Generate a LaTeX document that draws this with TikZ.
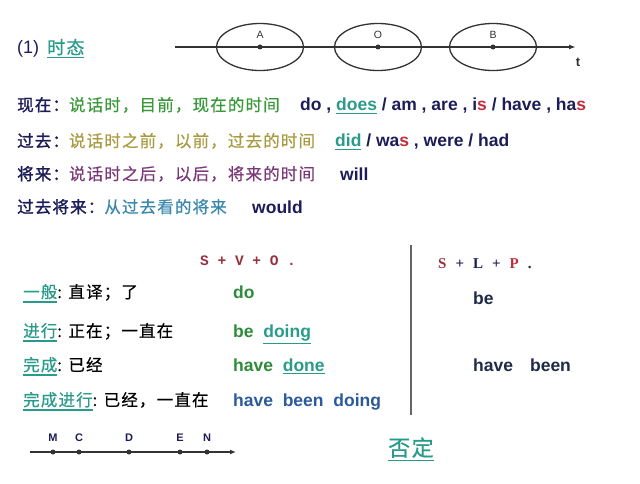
\documentclass[tikz,border=0pt]{standalone}
\usepackage{fontspec}
\setmainfont{Liberation Sans}
\newfontfamily\cjk{Noto Sans CJK SC}[LetterSpace=7,FakeBold=0.6]
\newfontfamily\cjkb{Noto Sans CJK SC}[LetterSpace=7,FakeBold=1.6]
\newfontfamily\monof{Liberation Mono}
\newfontfamily\serf{Liberation Serif}
\usetikzlibrary{shapes.geometric,arrows.meta}
\definecolor{navyc}{HTML}{1C1C58}
\definecolor{greenc}{HTML}{3A9A3A}
\definecolor{dgreenc}{HTML}{2E8B3A}
\definecolor{olivec}{HTML}{A89A40}
\definecolor{purplec}{HTML}{7A3A78}
\definecolor{bluetealc}{HTML}{3A88AC}
\definecolor{tealc}{HTML}{2A9A8A}
\definecolor{redc}{HTML}{C0303C}
\definecolor{dredc}{HTML}{9A3040}
\definecolor{bluec}{HTML}{2A5A9A}
\definecolor{darkc}{HTML}{1E2A48}
\definecolor{linec}{HTML}{333333}
\newcommand\myul[1]{\leavevmode\vtop{\hbox{#1}\kern2pt\hrule height 1.2pt}}
\begin{document}
\begin{tikzpicture}[x=1pt,y=-1pt,
  txt/.style={anchor=base west, inner sep=0pt},
  en/.style={txt, font=\fontsize{17.5}{20}\selectfont\bfseries, text=navyc},
  zh/.style={txt, font=\fontsize{16.5}{20}\selectfont\cjk},
  ell/.style={ellipse, draw=linec, line width=1.3pt, minimum width=87pt, minimum height=47pt, inner sep=0pt},
  dot/.style={circle, fill=linec, inner sep=0pt, minimum size=5pt},
  lbl/.style={inner sep=0pt, font=\fontsize{10.5}{12}\selectfont, text=linec},
  blbl/.style={inner sep=0pt, font=\fontsize{11}{12}\selectfont\bfseries, text=navyc},
  axis/.style={draw=linec, line width=1.4pt}]
\useasboundingbox (0,0) rectangle (640,484);

% title
\node[txt, font=\fontsize{18}{20}\selectfont, text=navyc] (tnum) at (17,54) {(1)};
\node[txt, font=\fontsize{18}{20}\selectfont\cjk, text=tealc] (ttitle) at (47,54) {\myul{时态}};

% top timeline
\coordinate (ta) at (175,47);
\coordinate (tb) at (576,47);
\draw[axis, -{Latex[length=7pt,width=5pt]}] (ta) -- (tb);
\node[ell] (eA) at (260,47) {};
\node[ell] (eO) at (378,47) {};
\node[ell] (eB) at (493,47) {};
\node[dot] (pA) at (260,47) {};
\node[dot] (pO) at (378,47) {};
\node[dot] (pB) at (493,47) {};
\node[lbl] (lA) at (260,35) {A};
\node[lbl] (lO) at (378,35) {O};
\node[lbl] (lB) at (493,35) {B};
\node[inner sep=0pt, font=\fontsize{13}{14}\selectfont\bfseries, text=linec] (lt) at (578,62) {t};

% rows
\node[zh] (r1a) at (17,111) {\cjkb\color{navyc}现在：\cjk\color{greenc}说话时，目前，现在的时间};
\node[en] (r1b) at (300,111) {do , \textcolor{tealc}{\myul{does}} / am , are , i\textcolor{redc}{s} / have , ha\textcolor{redc}{s}};
\node[zh] (r2a) at (17,147) {\cjkb\color{navyc}过去：\cjk\color{olivec}说话时之前，以前，过去的时间};
\node[en] (r2b) at (335,147) {\textcolor{tealc}{\myul{did}} / wa\textcolor{redc}{s} , were / had};
\node[zh] (r3a) at (17,180) {\cjkb\color{navyc}将来：\cjk\color{purplec}说话时之后，以后，将来的时间};
\node[en] (r3b) at (340,180) {will};
\node[zh] (r4a) at (17,213) {\cjkb\color{navyc}过去将来：\cjk\color{bluetealc}从过去看的将来};
\node[en] (r4b) at (252,213) {would};

% lower section
\node[txt, font=\fontsize{14.5}{16}\selectfont\monof\bfseries, text=dredc] (svo) at (200,265) {S + V + O .};
\node[txt, font=\fontsize{15}{16}\selectfont\serf\bfseries, text=navyc] (slp) at (438,268)
  {\textcolor{dredc}{S}\hspace{9pt}+\hspace{9pt}L\hspace{9pt}+\hspace{9pt}\textcolor{redc}{P}\hspace{9pt}.};

\coordinate (v1) at (411,245);
\coordinate (v2) at (411,415);
\draw[draw=gray!80!black, line width=1.6pt] (v1) -- (v2);

\node[zh] (g1a) at (23,298) {\textcolor{tealc}{\myul{一般}}\color{black}: 直译；了};
\node[en, text=dgreenc] (g1b) at (233,298) {do};
\node[zh] (g2a) at (23,337) {\textcolor{tealc}{\myul{进行}}\color{black}: 正在；一直在};
\node[en, text=dgreenc] (g2b) at (233,337) {be\ \ \textcolor{tealc}{\myul{doing}}};
\node[zh] (g3a) at (23,371) {\textcolor{tealc}{\myul{完成}}\color{black}: 已经};
\node[en, text=dgreenc] (g3b) at (233,371) {have\ \ \textcolor{tealc}{\myul{done}}};
\node[zh] (g4a) at (23,406) {\textcolor{tealc}{\myul{完成进行}}\color{black}: 已经，一直在};
\node[en, text=bluec] (g4b) at (233,406) {have\ \ been\ \ doing};

\node[en, text=darkc] (rbe) at (473,304) {be};
\node[en, text=darkc] (rhb) at (473,371) {have\hspace{17pt}been};

% bottom timeline
\coordinate (ba) at (30,452);
\coordinate (bb) at (236,452);
\draw[axis, -{Latex[length=6pt,width=5pt]}] (ba) -- (bb);
\node[dot] (pM) at (53,452) {};
\node[dot] (pC) at (79,452) {};
\node[dot] (pD) at (129,452) {};
\node[dot] (pE) at (180,452) {};
\node[dot] (pN) at (207,452) {};
\node[blbl] (lM) at (53,438) {M};
\node[blbl] (lC) at (79,438) {C};
\node[blbl] (lD) at (129,438) {D};
\node[blbl] (lE) at (180,438) {E};
\node[blbl] (lN) at (207,438) {N};

\node[txt, font=\fontsize{22}{24}\selectfont\cjk, text=tealc] (neg) at (388,456) {\myul{否定}};
\end{tikzpicture}
\end{document}
